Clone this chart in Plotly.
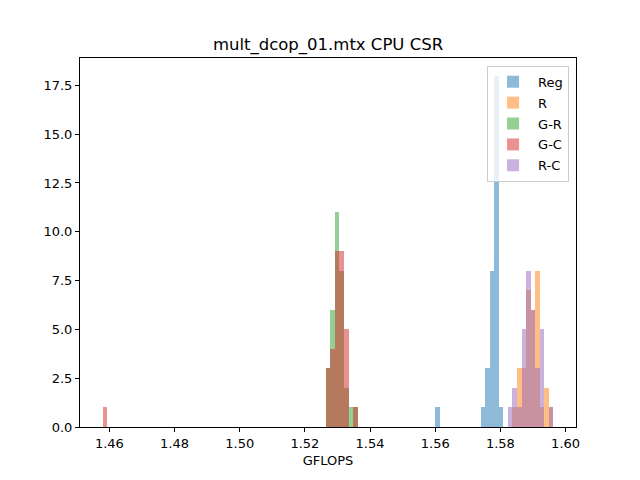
import numpy as np
import plotly.graph_objects as go

# Histogram bin grid (common to all series): 100 edges -> 99 bins
BIN_MIN = 1.45791
BIN_MAX = 1.59628
N_EDGES = 100

# Series: bin indices and counts
reg_bins = [73, 83, 84, 85, 86, 87]
reg_counts = [1, 1, 3, 8, 18, 1]

r_bins = [90, 91, 92, 93, 94, 95, 96, 97, 98]
r_counts = [1, 3, 3, 7, 6, 8, 1, 2, 1]

gr_bins = [49, 50, 51, 52, 53, 54, 55]
gr_counts = [3, 6, 11, 8, 2, 1, 1]

gc_bins = [0, 49, 50, 51, 52, 53, 55]
gc_counts = [1, 3, 4, 9, 9, 5, 1]

rc_bins = [89, 90, 91, 92, 93, 94, 95, 96, 98]
rc_counts = [1, 2, 1, 5, 8, 6, 3, 5, 1]

series_names = ["Reg", "R", "G-R", "G-C", "R-C"]
series_colors = ["#1f77b4", "#ff7f0e", "#2ca02c", "#d62728", "#9467bd"]

x_ticks = [1.46, 1.48, 1.50, 1.52, 1.54, 1.56, 1.58, 1.60]
y_ticks = [0.0, 2.5, 5.0, 7.5, 10.0, 12.5, 15.0, 17.5]

edges = np.linspace(BIN_MIN, BIN_MAX, N_EDGES)
bw = edges[1] - edges[0]
centers = (edges[:-1] + edges[1:]) / 2

fig = go.Figure()
all_series = [(reg_bins, reg_counts), (r_bins, r_counts), (gr_bins, gr_counts),
              (gc_bins, gc_counts), (rc_bins, rc_counts)]
for (bins, counts), name, color in zip(all_series, series_names, series_colors):
    fig.add_trace(go.Bar(
        x=[centers[b] for b in bins], y=counts, width=bw, name=name,
        legendgroup=name,
        marker=dict(color=color, line=dict(width=0)), opacity=0.5,
    ))

span = BIN_MAX - BIN_MIN
ymax = max(max(c) for _, c in all_series)

axis_common = dict(showline=True, mirror=True, linecolor="black", linewidth=1,
                   ticks="outside", ticklen=4, tickwidth=1, tickcolor="black",
                   showgrid=False, zeroline=False,
                   tickfont=dict(family="DejaVu Sans", size=13, color="black"))

fig.update_layout(
    width=640, height=480,
    margin=dict(l=80, r=64, t=58, b=53),
    plot_bgcolor="white", paper_bgcolor="white",
    barmode="overlay", bargap=0,
    font=dict(family="DejaVu Sans", color="black"),
    title=dict(text="mult_dcop_01.mtx CPU CSR", x=0.5, xref="paper", xanchor="center",
               y=1 - 44 / 480, yref="container", yanchor="middle",
               font=dict(family="DejaVu Sans", size=16.5, color="black")),
    xaxis=dict(range=[BIN_MIN - 0.05 * span, BIN_MAX + 0.05 * span],
               tickvals=x_ticks, ticktext=[f"{v:.2f}" for v in x_ticks],
               title=dict(text="GFLOPS", standoff=6,
                          font=dict(family="DejaVu Sans", size=13, color="black")),
               **axis_common),
    yaxis=dict(range=[0, ymax * 1.05],
               tickvals=y_ticks, ticktext=[f"{v:.1f}" for v in y_ticks],
               **axis_common),
    legend=dict(x=0.986, y=0.979, xanchor="right", yanchor="top",
                bgcolor="rgba(255,255,255,0.8)", bordercolor="#cccccc", borderwidth=1,
                font=dict(family="DejaVu Sans", size=13, color="black"),
                traceorder="grouped", tracegroupgap=1, itemwidth=40),
)

fig.write_html("out.html", config={"displayModeBar": False},
               post_script="document.body.style.margin='0';document.body.style.padding='0';")
